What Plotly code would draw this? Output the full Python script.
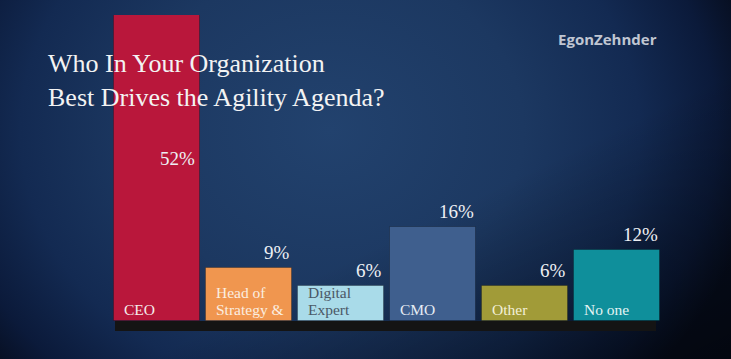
import base64
import plotly.graph_objects as go

# ---- data ----
categories = ["CEO", "Head of Strategy &", "Digital Expert", "CMO", "Other", "No one"]
bar_labels = [["CEO"], ["Head of", "Strategy &"], ["Digital", "Expert"], ["CMO"], ["Other"], ["No one"]]
values = [52, 9, 6, 16, 6, 12]
value_text = ["52%", "9%", "6%", "16%", "6%", "12%"]
bar_colors = ["#b9173b", "#f0964f", "#a9dbe9", "#3f5f8e", "#a19b38", "#0f8f9b"]
label_colors = ["#f4ecec", "#fbeee0", "#4b5866", "#e6ecf4", "#f3f0d8", "#e3f4f4"]

W, H = 731, 359
ML, MR, MT, MB = 111, 68, 15, 38
PW, PH = W - ML - MR, H - MT - MB

# background gradient as svg image
svg = f'''<svg xmlns="http://www.w3.org/2000/svg" width="{W}" height="{H}" viewBox="0 0 {W} {H}" preserveAspectRatio="none">
<defs>
<radialGradient id="g" gradientUnits="userSpaceOnUse" cx="330" cy="130" r="430" gradientTransform="translate(330 130) scale(1 0.85) translate(-330 -130)">
<stop offset="0" stop-color="#22426e"/>
<stop offset="0.45" stop-color="#1c3861"/>
<stop offset="0.72" stop-color="#132a52"/>
<stop offset="0.9" stop-color="#0b1a3a"/>
<stop offset="1" stop-color="#070f22"/>
</radialGradient>
<linearGradient id="d" x1="0" y1="0" x2="1" y2="1">
<stop offset="0.6" stop-color="#000" stop-opacity="0"/>
<stop offset="1" stop-color="#000" stop-opacity="0.55"/>
</linearGradient>
</defs>
<rect width="{W}" height="{H}" fill="url(#g)"/>
<rect width="{W}" height="{H}" fill="url(#d)"/>
</svg>'''
bg_src = "data:image/svg+xml;base64," + base64.b64encode(svg.encode()).decode()

fig = go.Figure()
fig.add_trace(go.Bar(
    x=categories, y=values,
    marker=dict(color=bar_colors, line=dict(color="rgba(0,0,0,0.25)", width=1)),
    width=0.925, hoverinfo="skip",
))

annotations = []
# title
annotations.append(dict(
    text="Who In Your Organization<br>Best Drives the Agility Agenda?",
    xref="paper", yref="paper", x=-(ML - 46) / PW, y=1 + (MT - 47) / PH,
    xanchor="left", yanchor="top", align="left", showarrow=False,
    font=dict(family="Liberation Serif", size=26, color="#f3f3f3"),
))
# logo
annotations.append(dict(
    text="<b>EgonZehnder</b>", xref="paper", yref="paper",
    x=1 + (659 - (W - MR)) / PW, y=1 + (MT - 27) / PH,
    xanchor="right", yanchor="top", showarrow=False,
    font=dict(family="Open Sans", size=15, color="#c0c6d2"),
))

for i, (cat, v, t) in enumerate(zip(categories, values, value_text)):
    # value labels, right aligned at bar edge
    annotations.append(dict(
        text=t, x=cat, y=v, xref="x", yref="y",
        xanchor="right", yanchor="bottom", xshift=43 if i else 40,
        yshift=-156 if i == 0 else 3, showarrow=False,
        font=dict(family="Liberation Serif", size=19, color="#eef0f4"),
    ))
    # category labels at bottom-left inside bars
    lines = bar_labels[i]
    for j, line in enumerate(lines):
        annotations.append(dict(
            text=line, x=cat, y=0, xref="x", yref="y",
            xanchor="left", yanchor="bottom", xshift=-35,
            yshift=1 + 17 * (len(lines) - 1 - j), showarrow=False,
            font=dict(family="Liberation Serif", size=15.5, color=label_colors[i]),
        ))

fig.update_layout(
    width=W, height=H,
    margin=dict(l=ML, r=MR, t=MT, b=MB, pad=0),
    paper_bgcolor="#122a50", plot_bgcolor="rgba(0,0,0,0)",
    showlegend=False, bargap=0,
    xaxis=dict(range=[-0.5, len(categories) - 0.5], visible=False, fixedrange=True),
    yaxis=dict(range=[0, max(values)], visible=False, fixedrange=True),
    images=[dict(source=bg_src, xref="paper", yref="paper",
                 x=-ML / PW, y=1 + MT / PH, sizex=W / PW, sizey=H / PH,
                 sizing="stretch", layer="below", xanchor="left", yanchor="top")],
    shapes=[dict(type="rect", xref="paper", yref="paper",
                 x0=(115 - ML) / PW, x1=(656 - ML) / PW, y0=-10 / PH, y1=0,
                 fillcolor="#141414", line=dict(width=0), layer="above")],
    annotations=annotations,
)

fig.write_html("out.html", config={"displayModeBar": False},
               post_script="document.body.style.margin='0';document.body.style.overflow='hidden';")
